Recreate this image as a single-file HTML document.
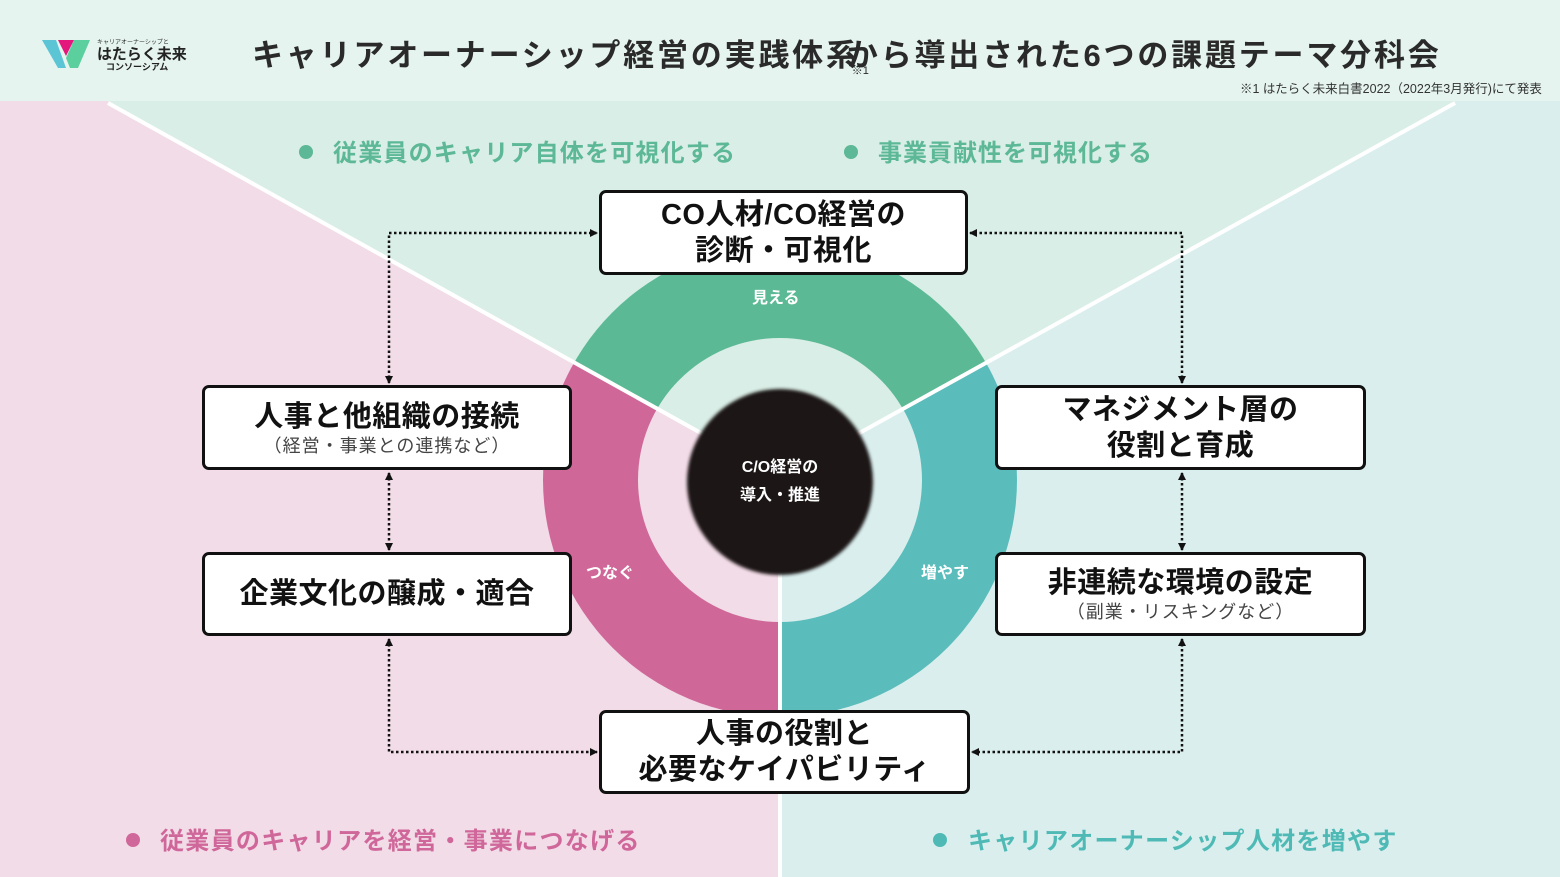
<!DOCTYPE html>
<html><head><meta charset="utf-8"><style>
body{margin:0;width:1560px;height:877px;overflow:hidden;font-family:"Liberation Sans","Noto Sans CJK JP",sans-serif;position:relative;background:#fff}
svg{position:absolute;left:0;top:0}
.t{position:absolute;white-space:nowrap}
.box{position:absolute;background:#fff;border:3px solid #111;border-radius:7px;box-sizing:border-box;display:flex;flex-direction:column;align-items:center;justify-content:center;text-align:center;color:#111;font-weight:bold;font-size:29px;line-height:36px;letter-spacing:0.5px}
.box small{font-weight:normal;font-size:18px;line-height:22px;color:#444;letter-spacing:1px}
</style></head><body>
<svg width="1560" height="877" viewBox="0 0 1560 877">
<defs>
<mask id="ann"><rect width="1560" height="877" fill="#000"/><circle cx="780" cy="480" r="237" fill="#fff"/><circle cx="780" cy="480" r="142" fill="#000"/></mask>
<filter id="bl"><feGaussianBlur stdDeviation="1.5"/></filter>
<marker id="ar" markerWidth="8" markerHeight="8" refX="7" refY="4" orient="auto-start-reverse" markerUnits="userSpaceOnUse"><path d="M0,0 L8,4 L0,8Z" fill="#111"/></marker>
</defs>
<rect width="1560" height="101" fill="#e5f4ef"/>
<polygon points="0,101 108,101 780,477 780,877 0,877" fill="#f2dce7"/>
<polygon points="108,101 1455,101 780,477" fill="#d9eee6"/>
<polygon points="1455,101 1560,101 1560,877 780,877 780,477" fill="#daeeee"/>
<g mask="url(#ann)">
<polygon points="0,101 108,101 780,477 780,877 0,877" fill="#cf6898"/>
<polygon points="108,101 1455,101 780,477" fill="#5bb995"/>
<polygon points="1455,101 1560,101 1560,877 780,877 780,477" fill="#5abcbb"/>
</g>
<line x1="108" y1="103" x2="780" y2="477" stroke="#fff" stroke-width="4"/>
<line x1="1455" y1="103" x2="780" y2="477" stroke="#fff" stroke-width="4"/>
<line x1="780" y1="477" x2="780" y2="877" stroke="#fff" stroke-width="4"/>
<circle cx="780" cy="482" r="93" fill="#1b1819" filter="url(#bl)"/>
<g stroke="#111" stroke-width="2.5" stroke-dasharray="2.5 2.5" fill="none">
<polyline points="389,383 389,233 597,233" marker-start="url(#ar)" marker-end="url(#ar)"/>
<line x1="389" y1="473" x2="389" y2="550" marker-start="url(#ar)" marker-end="url(#ar)"/>
<polyline points="389,639 389,752 597,752" marker-start="url(#ar)" marker-end="url(#ar)"/>
<polyline points="1182,383 1182,233 970,233" marker-start="url(#ar)" marker-end="url(#ar)"/>
<line x1="1182" y1="473" x2="1182" y2="550" marker-start="url(#ar)" marker-end="url(#ar)"/>
<polyline points="1182,639 1182,752 972,752" marker-start="url(#ar)" marker-end="url(#ar)"/>
</g>
<polygon points="42,40 56,40 66,68 58,68" fill="#5bc5d6"/>
<polygon points="58,40 74,40 66,56" fill="#e3177c"/>
<polygon points="66,58 74,40 90,40 78,68 70,68" fill="#5ccf9f"/>
<circle cx="306" cy="152" r="7" fill="#5cb896"/>
<circle cx="851" cy="152" r="7" fill="#5cb896"/>
<circle cx="133" cy="840" r="7" fill="#d0679a"/>
<circle cx="940" cy="840" r="7" fill="#4fbab5"/>
</svg>
<div class="t" style="left:97px;top:37px;font-size:6px;color:#333">キャリアオーナーシップと</div>
<div class="t" style="left:97px;top:43px;font-size:15px;font-weight:bold;color:#222">はたらく未来</div>
<div class="t" style="left:106px;top:60px;font-size:9px;font-weight:bold;color:#222">コンソーシアム</div>
<div class="t" style="left:252px;top:30px;font-size:31px;font-weight:bold;color:#2a2a2a;letter-spacing:2.8px">キャリアオーナーシップ経営の実践体系<span style="font-size:11px;font-weight:normal;letter-spacing:0;vertical-align:-8px;margin-right:-22px;margin-left:-8px">※1</span>から導出された6つの課題テーマ分科会</div>
<div class="t" style="left:1240px;top:78px;font-size:12.5px;color:#333">※1 はたらく未来白書2022（2022年3月発行)にて発表</div>
<div class="t" style="left:333px;top:133px;font-size:24px;font-weight:bold;color:#5cb896;letter-spacing:1.2px">従業員のキャリア自体を可視化する</div>
<div class="t" style="left:878px;top:133px;font-size:24px;font-weight:bold;color:#5cb896;letter-spacing:1px">事業貢献性を可視化する</div>
<div class="t" style="left:160px;top:821px;font-size:24px;font-weight:bold;color:#d0679a;letter-spacing:1.3px">従業員のキャリアを経営・事業につなげる</div>
<div class="t" style="left:968px;top:821px;font-size:24px;font-weight:bold;color:#4fbab5;letter-spacing:1.3px">キャリアオーナーシップ人材を増やす</div>
<div class="t" style="left:752px;top:284px;font-size:16px;font-weight:bold;color:#fff">見える</div>
<div class="t" style="left:586px;top:559px;font-size:16px;font-weight:bold;color:#fff">つなぐ</div>
<div class="t" style="left:921px;top:559px;font-size:16px;font-weight:bold;color:#fff">増やす</div>
<div class="t" style="left:700px;top:454px;width:160px;text-align:center;font-size:16px;font-weight:bold;color:#fff;line-height:28px">C/O経営の<br>導入・推進</div>
<div class="box" style="left:599px;top:190px;width:369px;height:85px">CO人材/CO経営の<br>診断・可視化</div>
<div class="box" style="left:202px;top:385px;width:370px;height:85px">人事と他組織の接続<small>（経営・事業との連携など）</small></div>
<div class="box" style="left:202px;top:552px;width:370px;height:84px">企業文化の醸成・適合</div>
<div class="box" style="left:995px;top:385px;width:371px;height:85px">マネジメント層の<br>役割と育成</div>
<div class="box" style="left:995px;top:552px;width:371px;height:84px">非連続な環境の設定<small>（副業・リスキングなど）</small></div>
<div class="box" style="left:599px;top:710px;width:371px;height:84px">人事の役割と<br>必要なケイパビリティ</div>
</body></html>
